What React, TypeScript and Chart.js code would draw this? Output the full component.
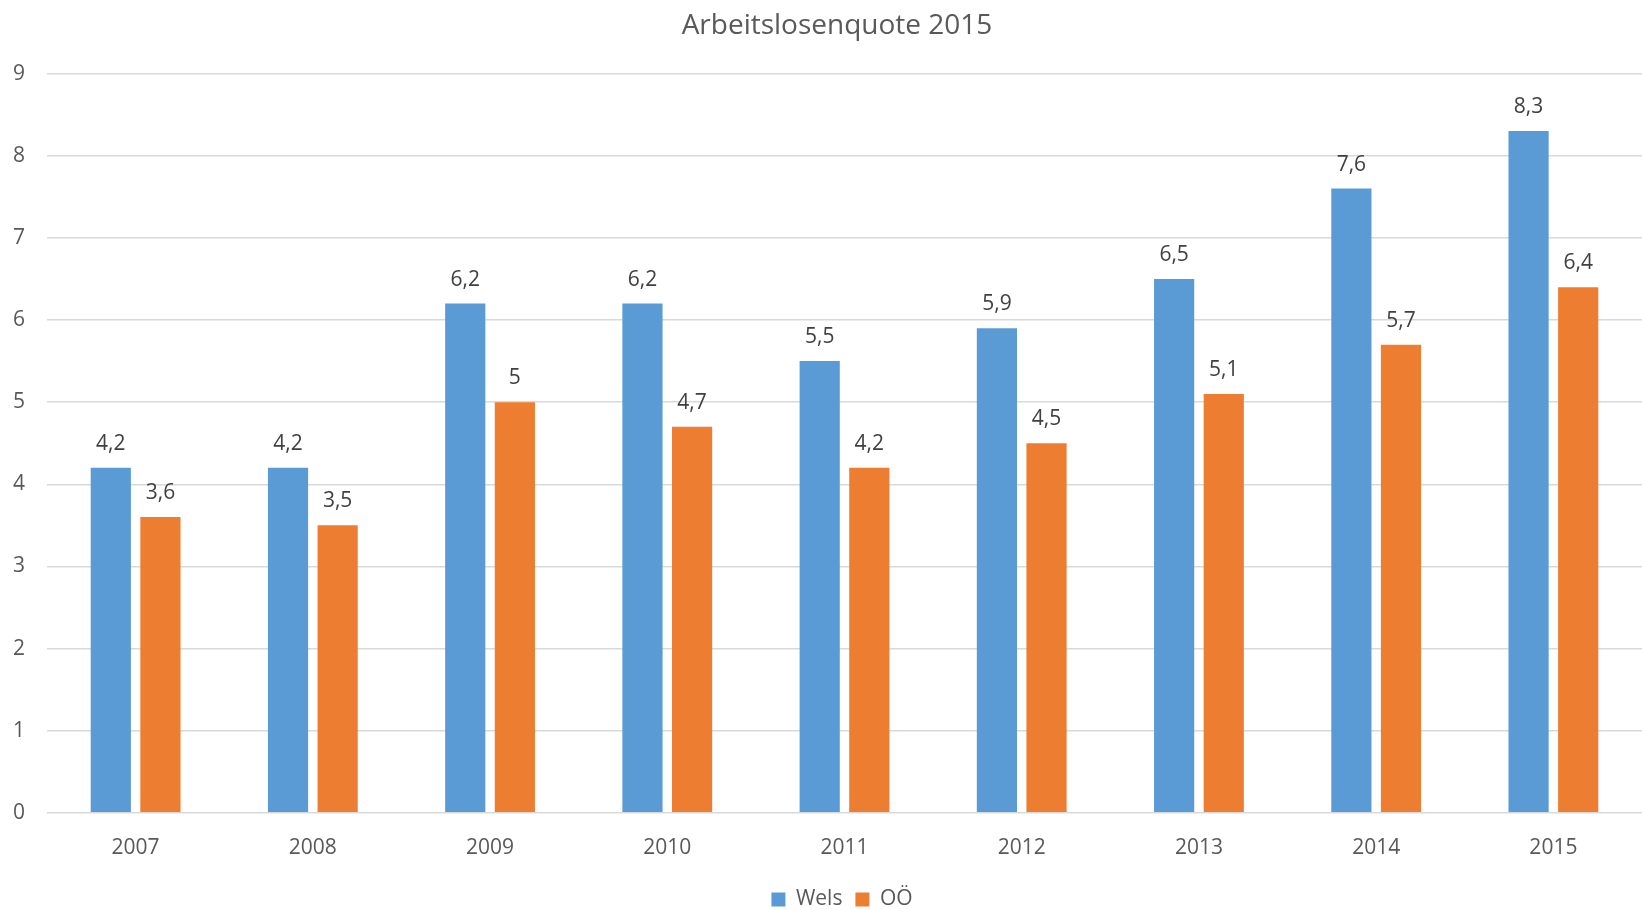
import React, { useEffect, useRef } from "react";
import { Chart, registerables } from "chart.js";

Chart.register(...registerables);

const categories = ["2007", "2008", "2009", "2010", "2011", "2012", "2013", "2014", "2015"];
const welsValues = [4.2, 4.2, 6.2, 6.2, 5.5, 5.9, 6.5, 7.6, 8.3];
const ooeValues = [3.6, 3.5, 5.0, 4.7, 4.2, 4.5, 5.1, 5.7, 6.4];
const seriesNames = ["Wels", "OÖ"];
const titleText = "Arbeitslosenquote 2015";

const FONT = "'Open Sans', 'Noto Sans', sans-serif";

const dataLabelPlugin = {
  id: "dataLabels",
  afterDatasetsDraw(chart: any) {
    const ctx = chart.ctx;
    ctx.save();
    ctx.font = `21px ${FONT}`;
    ctx.fillStyle = "#404040";
    ctx.textAlign = "center";
    ctx.textBaseline = "middle";
    chart.data.datasets.forEach((ds: any, di: number) => {
      const meta = chart.getDatasetMeta(di);
      meta.data.forEach((bar: any, i: number) => {
        const v = ds.data[i];
        ctx.fillText(String(v).replace(".", ","), bar.x, bar.y - 24);
      });
    });
    ctx.restore();
  },
};

const shiftPlugin = {
  id: "centerOnPlot",
  afterLayout(chart: any) {
    if (chart.legend) {
      chart.legend.left += 21;
      chart.legend.right += 21;
    }
    if (chart.titleBlock) {
      chart.titleBlock.left += 16;
      chart.titleBlock.right += 16;
    }
  },
};

export default function App() {
  const ref = useRef<HTMLCanvasElement | null>(null);
  useEffect(() => {
    document.body.style.margin = "0";
    const chart = new Chart(ref.current as HTMLCanvasElement, {
      type: "bar",
      data: {
        labels: categories,
        datasets: [
          {
            label: seriesNames[0],
            data: welsValues,
            backgroundColor: "#5B9BD5",
            categoryPercentage: 0.56,
            barPercentage: 0.81,
          },
          {
            label: seriesNames[1],
            data: ooeValues,
            backgroundColor: "#ED7D31",
            categoryPercentage: 0.56,
            barPercentage: 0.81,
          },
        ],
      },
      options: {
        animation: false,
        responsive: false,
        maintainAspectRatio: false,
        layout: { padding: { left: 0, right: 0, top: 0, bottom: 0 } },
        plugins: {
          title: {
            display: true,
            text: titleText,
            color: "#595959",
            font: { family: FONT, size: 28, weight: "normal" },
            padding: { top: 9, bottom: 31 },
          },
          legend: {
            display: true,
            position: "bottom",
            labels: {
              color: "#595959",
              font: { family: FONT, size: 21 },
              boxWidth: 14,
              boxHeight: 14,
              padding: 13,
            },
          },
          tooltip: { enabled: false },
        },
        scales: {
          x: {
            grid: { display: false },
            border: { display: false },
            ticks: {
              color: "#595959",
              font: { family: FONT, size: 21 },
              padding: 15,
            },
          },
          y: {
            min: 0,
            max: 9,
            grid: { color: "#D9D9D9", lineWidth: 1.5, drawTicks: false },
            border: { display: false },
            ticks: {
              stepSize: 1,
              color: "#595959",
              font: { family: FONT, size: 21 },
              padding: 22,
            },
            afterFit(scale: any) {
              scale.width = 47;
            },
          },
        },
      },
      plugins: [dataLabelPlugin, shiftPlugin],
    });
    return () => chart.destroy();
  }, []);
  return (
    <div style={{ position: "fixed", left: 0, top: 0, width: 1642, height: 910, overflow: "hidden" }}>
      <canvas ref={ref} width={1642} height={920} style={{ display: "block" }} />
    </div>
  );
}
